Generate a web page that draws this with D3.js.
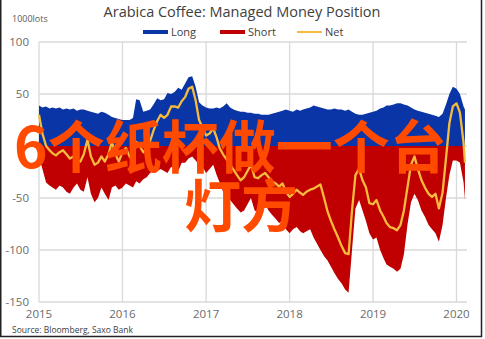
<!DOCTYPE html>
<html><head><meta charset="utf-8">
<script src="https://cdn.jsdelivr.net/npm/d3@7"></script>
<style>
html,body{margin:0;padding:0;background:#fff;}
svg{display:block;}
</style></head>
<body>
<svg id="chart" width="485" height="339"></svg>
<script>
const title = "Arabica Coffee: Managed Money Position";
const unitLabel = "1000lots";
const sourceText = "Source: Bloomberg, Saxo Bank";
const overlayLines = ["6个纸杯做一个台", "灯方"];
const seriesNames = ["Long", "Short", "Net"];
const yTicks = [100, 50, 0, -50, -100, -150];
const yTickLabels = ["100", "50", "", "-50", "-100", "-150"];
const xTickYears = ["2015", "2016", "2017", "2018", "2019", "2020"];

const dates = [
"2015-01-01","2015-01-16","2015-02-01","2015-02-16","2015-03-01","2015-03-16","2015-04-01","2015-04-16","2015-05-01","2015-05-16","2015-06-01","2015-06-16",
"2015-07-01","2015-07-16","2015-08-01","2015-08-16","2015-09-01","2015-09-16","2015-10-01","2015-10-16","2015-11-01","2015-11-16","2015-12-01","2015-12-16",
"2016-01-01","2016-01-16","2016-02-01","2016-02-16","2016-03-01","2016-03-16","2016-04-01","2016-04-16","2016-05-01","2016-05-16","2016-06-01","2016-06-16",
"2016-07-01","2016-07-16","2016-08-01","2016-08-16","2016-09-01","2016-09-16","2016-10-01","2016-10-16","2016-11-01","2016-11-16","2016-12-01","2016-12-16",
"2017-01-01","2017-01-16","2017-02-01","2017-02-16","2017-03-01","2017-03-16","2017-04-01","2017-04-16","2017-05-01","2017-05-16","2017-06-01","2017-06-16",
"2017-07-01","2017-07-16","2017-08-01","2017-08-16","2017-09-01","2017-09-16","2017-10-01","2017-10-16","2017-11-01","2017-11-16","2017-12-01","2017-12-16",
"2018-01-01","2018-01-16","2018-02-01","2018-02-16","2018-03-01","2018-03-16","2018-04-01","2018-04-16","2018-05-01","2018-05-16","2018-06-01","2018-06-16",
"2018-07-01","2018-07-16","2018-08-01","2018-08-16","2018-09-01","2018-09-16","2018-10-01","2018-10-16","2018-11-01","2018-11-16","2018-12-01","2018-12-16",
"2019-01-01","2019-01-16","2019-02-01","2019-02-16","2019-03-01","2019-03-16","2019-04-01","2019-04-16","2019-05-01","2019-05-16","2019-06-01","2019-06-16",
"2019-07-01","2019-07-16","2019-08-01","2019-08-16","2019-09-01","2019-09-16","2019-10-01","2019-10-16","2019-11-01","2019-11-16","2019-12-01","2019-12-16",
"2020-01-01","2020-01-16","2020-02-01","2020-02-07"];

const longValues = [
39,37,38,36,37,36,37,35,36,35,36,34,
35,35,34,33,32,31,33,32,30,28,27,26,
25,25,25,27,45,44,33,34,35,40,46,44,
45,51,50,52,56,54,60,66,67,57,42,39,
37,36,36,37,36,38,41,37,35,34,33,33,
32,32,31,31,30,30,30,31,32,33,34,35,
34,33,35,34,35,36,37,39,38,37,36,35,
35,36,35,35,34,35,33,31,30,30,31,32,
33,34,36,37,39,39,40,41,41,40,39,37,
35,34,33,32,31,30,29,28,31,40,50,57,
55,50,38,35];

const shortValues = [
-10,-22,-35,-38,-40,-42,-38,-40,-44,-46,-40,-36,
-42,-44,-30,-46,-54,-50,-40,-46,-52,-40,-38,-42,
-40,-36,-38,-40,-34,-36,-32,-30,-26,-24,-24,-22,
-24,-26,-20,-22,-24,-16,-16,-12,-10,-14,-18,-20,
-26,-22,-18,-28,-35,-44,-50,-52,-56,-60,-64,-62,
-56,-50,-62,-64,-58,-56,-62,-66,-70,-74,-72,-80,
-84,-80,-78,-82,-84,-82,-80,-88,-94,-100,-106,-110,
-116,-122,-128,-132,-138,-141,-100,-60,-52,-62,-72,-84,
-90,-88,-100,-108,-114,-116,-118,-121,-118,-104,-75,-54,
-46,-52,-62,-68,-76,-80,-84,-92,-76,-50,-28,-14,
-14,-16,-35,-52];

const netValues = [
30,12,0,-4,-7,-9,-6,-4,-8,-12,-10,-14,
-15,-8,6,-10,-18,-16,-10,-15,-8,4,-8,-15,
-6,-2,-10,-15,4,0,-6,-2,5,15,24,30,
27,30,38,38,37,43,47,55,57,44,25,18,
10,12,17,8,-2,-8,-13,-18,-23,-28,-33,-30,
-24,-18,-30,-31,-28,-26,-30,-34,-36,-39,-36,-44,
-49,-46,-42,-45,-47,-44,-42,-41,-39,-37,-50,-63,
-72,-80,-88,-96,-103,-104,-62,-28,-22,-33,-40,-55,
-56,-52,-62,-68,-74,-78,-79,-81,-76,-62,-39,-18,
-10,-22,-33,-40,-46,-49,-46,-60,-45,-12,22,38,
41,32,3,-16];

const colors = {Long: "#0a35a6", Short: "#c00000", Net: "#f5bb3c"};

const parse = d3.timeParse("%Y-%m-%d");
const data = dates.map((d, i) => ({date: parse(d), long: longValues[i], short: shortValues[i], net: netValues[i]}));

const svg = d3.select("#chart");
const pLeft = 39, pRight = 467, pTop = 42, pBottom = 302;

const x = d3.scaleTime()
  .domain([parse("2015-01-01"), parse("2020-01-01")])
  .range([pLeft, 456.5]);
const y = d3.scaleLinear().domain([-150, 100]).range([pBottom, pTop]);

const gridColor = "#d9d9d9";
svg.append("g").selectAll("line").data(yTicks).join("line")
  .attr("x1", pLeft).attr("x2", pRight)
  .attr("y1", d => y(d)).attr("y2", d => y(d))
  .attr("stroke", gridColor).attr("stroke-width", 1.3);
svg.append("g").selectAll("line").data(xTickYears).join("line")
  .attr("x1", d => x(parse(d + "-01-01"))).attr("x2", d => x(parse(d + "-01-01")))
  .attr("y1", pTop).attr("y2", pBottom)
  .attr("stroke", gridColor).attr("stroke-width", 1.3);

const areaLong = d3.area().x(d => x(d.date)).y0(y(0)).y1(d => y(d.long));
const areaShort = d3.area().x(d => x(d.date)).y0(y(0)).y1(d => y(d.short));
svg.append("path").datum(data).attr("d", areaLong).attr("fill", colors.Long);
svg.append("path").datum(data).attr("d", areaShort).attr("fill", colors.Short);
const lineNet = d3.line().x(d => x(d.date)).y(d => y(d.net));
svg.append("path").datum(data).attr("d", lineNet).attr("fill", "none")
  .attr("stroke", colors.Net).attr("stroke-width", 2.3).attr("stroke-linejoin", "round");

const font = "'Open Sans', Lato, sans-serif";
svg.append("g").selectAll("text").data(yTicks.map((v, i) => ({v, t: yTickLabels[i]})).filter(d => d.t)).join("text")
  .attr("x", 29).attr("y", d => y(d.v)).attr("dy", "0.35em")
  .attr("text-anchor", "end").attr("font-family", font).attr("font-size", 11.5)
  .attr("fill", "#6b6b6b").text(d => d.t);
svg.append("g").selectAll("text").data(xTickYears).join("text")
  .attr("x", d => x(parse(d + "-01-01"))).attr("y", 318)
  .attr("text-anchor", "middle").attr("font-family", font).attr("font-size", 11.5)
  .attr("fill", "#6b6b6b").text(d => d);

svg.append("text").attr("x", 242).attr("y", 17).attr("text-anchor", "middle")
  .attr("font-family", font).attr("font-size", 14.5).attr("fill", "#404040").text(title);
svg.append("text").attr("x", 12).attr("y", 22)
  .attr("font-family", font).attr("font-size", 9).attr("fill", "#595959").text(unitLabel);
svg.append("text").attr("x", 12).attr("y", 333)
  .attr("font-family", font).attr("font-size", 8.5).attr("fill", "#404040").text(sourceText);

const legendItems = [
  {name: "Long", x: 143, type: "bar"},
  {name: "Short", x: 220, type: "bar"},
  {name: "Net", x: 297, type: "line"}
];
const lg = svg.append("g");
legendItems.forEach(it => {
  if (it.type === "bar") {
    lg.append("rect").attr("x", it.x).attr("y", 30).attr("width", 25).attr("height", 4).attr("fill", colors[it.name]);
  } else {
    lg.append("line").attr("x1", it.x).attr("x2", it.x + 25).attr("y1", 32).attr("y2", 32)
      .attr("stroke", colors.Net).attr("stroke-width", 2);
  }
  lg.append("text").attr("x", it.x + 28).attr("y", 32).attr("dy", "0.35em")
    .attr("font-family", font).attr("font-size", 11).attr("fill", "#404040").text(it.name);
});

svg.append("path").attr("d", "M0.75,0 V336.5 H481.5 V0").attr("fill", "none").attr("stroke", "#222").attr("stroke-width", 1.5);

const ov = svg.append("text").attr("font-family", "'Noto Sans CJK SC', sans-serif")
  .attr("font-size", 57).attr("font-weight", "bold").attr("fill", "#ff4a00");
ov.append("tspan").attr("x", 14).attr("y", 168).text(overlayLines[0]);
ov.append("tspan").attr("x", 184).attr("y", 227).text(overlayLines[1]);
</script>
</body></html>
